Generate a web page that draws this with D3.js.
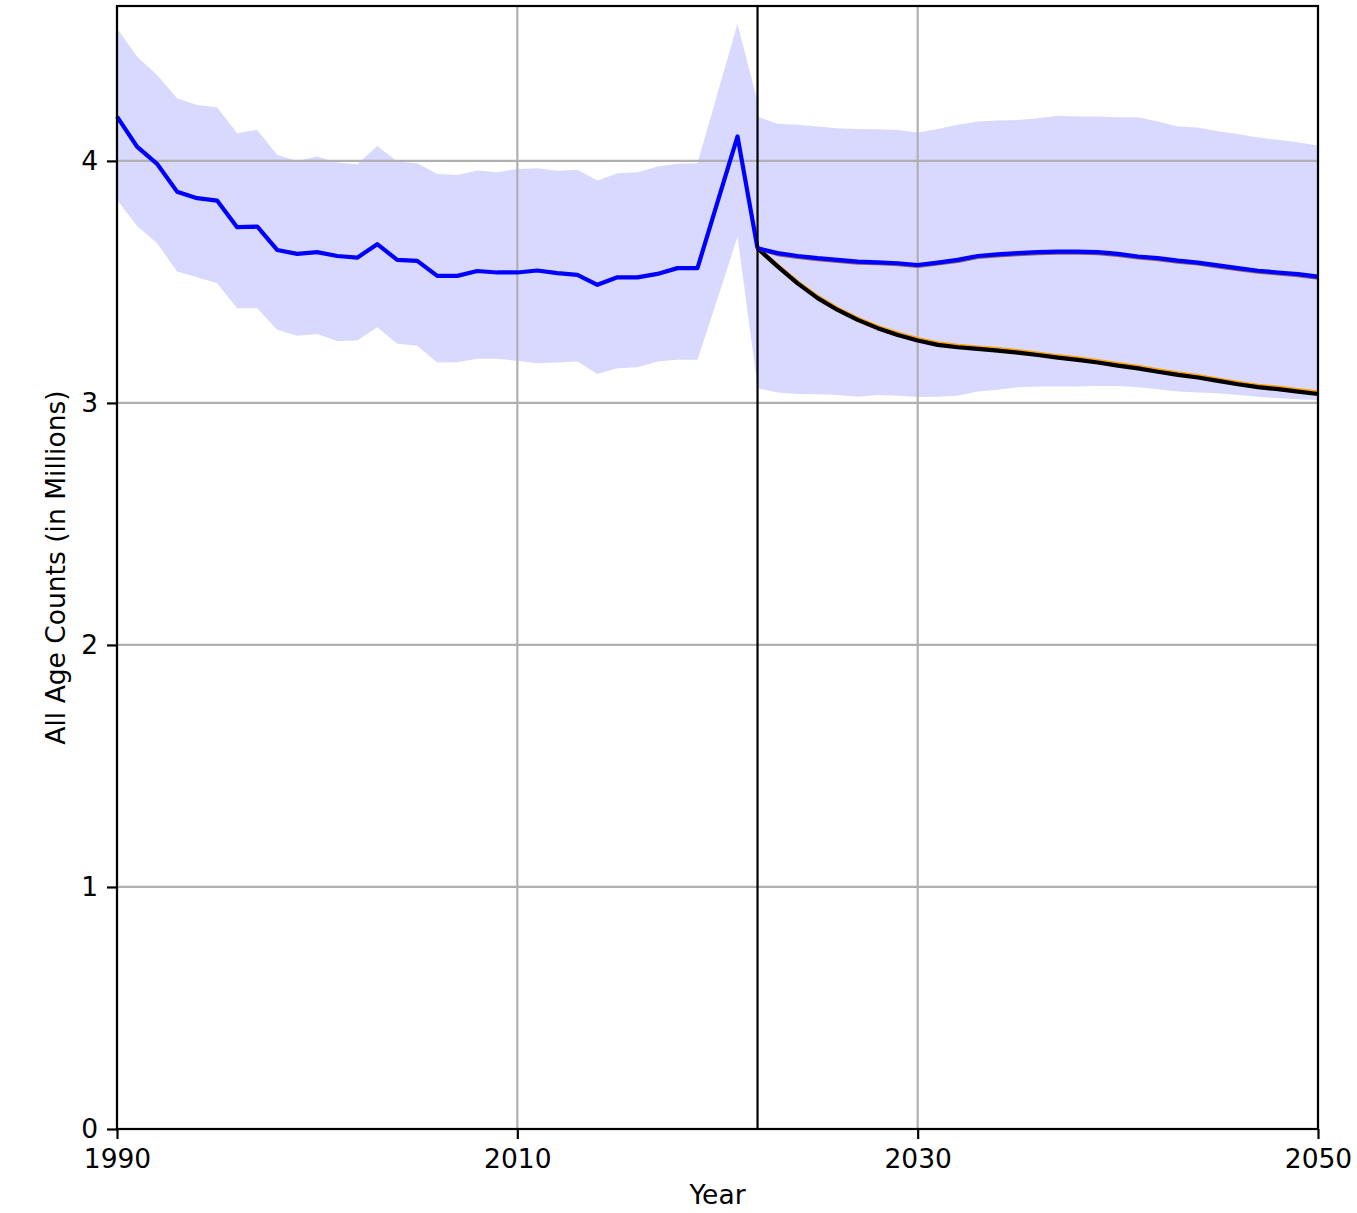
<!DOCTYPE html>
<html>
<head>
<meta charset="utf-8">
<script src="https://cdn.jsdelivr.net/npm/d3@7"></script>
<style>
body { margin: 0; background: #fff; }
text { font-family: "DejaVu Sans", sans-serif; fill: #000; }
</style>
</head>
<body>
<script>
// historical estimates 1990-2022
var histYears = d3.range(1990, 2023);
var histMean = [4.183, 4.059, 3.988, 3.873, 3.846, 3.836, 3.726, 3.729, 3.632, 3.616, 3.623, 3.607, 3.600, 3.656, 3.591, 3.587, 3.525,
	3.525, 3.545, 3.539, 3.539, 3.547, 3.536, 3.529, 3.488, 3.519, 3.519, 3.533, 3.557, 3.557, 3.83, 4.101, 3.639];
var histUpper = [4.548, 4.431, 4.355, 4.259, 4.231, 4.222, 4.114, 4.128, 4.025, 4.000, 4.018, 3.993, 3.986, 4.062, 3.997, 3.990, 3.946,
	3.942, 3.960, 3.953, 3.967, 3.970, 3.959, 3.963, 3.919, 3.949, 3.953, 3.977, 3.988, 3.990, 4.28, 4.566, 4.245];
var histLower = [3.839, 3.731, 3.660, 3.543, 3.519, 3.494, 3.391, 3.391, 3.302, 3.278, 3.285, 3.256, 3.258, 3.313, 3.244, 3.236, 3.167,
	3.168, 3.182, 3.182, 3.174, 3.164, 3.167, 3.171, 3.119, 3.143, 3.147, 3.171, 3.178, 3.178, 3.43, 3.687, 3.068];

// forecasts 2022-2050
var fcYears = d3.range(2022, 2051);
var fcUpper = [4.183, 4.153, 4.149, 4.142, 4.135, 4.132, 4.131, 4.128, 4.117, 4.132, 4.149, 4.163, 4.167, 4.169, 4.176,
	4.187, 4.183, 4.183, 4.180, 4.180, 4.163, 4.142, 4.138, 4.122, 4.111, 4.097, 4.087, 4.077, 4.063];
var fcLower = [3.061, 3.043, 3.037, 3.036, 3.033, 3.026, 3.033, 3.030, 3.024, 3.026, 3.030, 3.047, 3.054, 3.065, 3.068,
	3.068, 3.068, 3.070, 3.070, 3.065, 3.057, 3.047, 3.043, 3.040, 3.033, 3.026, 3.019, 3.015, 3.012];
var fcReference = [3.639, 3.619, 3.607, 3.598, 3.591, 3.584, 3.581, 3.577, 3.570, 3.580, 3.591, 3.607, 3.614, 3.619, 3.623,
	3.625, 3.625, 3.623, 3.616, 3.605, 3.598, 3.588, 3.580, 3.568, 3.557, 3.546, 3.539, 3.532, 3.522];
var fcRefAlt = [3.639, 3.615, 3.603, 3.594, 3.587, 3.580, 3.577, 3.573, 3.566, 3.576, 3.587, 3.603, 3.610, 3.615, 3.619,
	3.621, 3.621, 3.619, 3.612, 3.601, 3.594, 3.584, 3.576, 3.564, 3.553, 3.542, 3.535, 3.528, 3.518];
var fcLow = [3.639, 3.564, 3.494, 3.433, 3.384, 3.343, 3.309, 3.281, 3.258, 3.240, 3.230, 3.223, 3.216, 3.208, 3.198,
	3.187, 3.178, 3.167, 3.154, 3.143, 3.129, 3.116, 3.105, 3.091, 3.077, 3.065, 3.057, 3.047, 3.037];
var fcLowAlt = [3.639, 3.567, 3.498, 3.438, 3.389, 3.348, 3.314, 3.287, 3.264, 3.246, 3.236, 3.229, 3.222, 3.214, 3.204,
	3.193, 3.184, 3.173, 3.160, 3.149, 3.135, 3.122, 3.111, 3.097, 3.083, 3.071, 3.063, 3.053, 3.044];

var xTicks = [1990, 2010, 2030, 2050];
var yTicks = [0, 1, 2, 3, 4];
var forecastStart = 2022;

var margin = {top: 6, right: 39, bottom: 84, left: 117};
var width = 1201;
var height = 1123;
var fontSize = "26.5px";

var x = d3.scaleLinear().domain([1990, 2050]).range([0, width]);
var y = d3.scaleLinear().domain([0, 4.64]).range([height, 0]);

var svg = d3.select("body").append("svg")
	.attr("width", width + margin.left + margin.right)
	.attr("height", height + margin.top + margin.bottom);
var g = svg.append("g")
	.attr("transform", "translate(" + margin.left + "," + margin.top + ")");

function zip(years) {
	var cols = Array.prototype.slice.call(arguments, 1);
	return years.map((yr, i) => ({year: yr, v: cols.map((c) => c[i])}));
}

// uncertainty bands
var area = d3.area()
	.x((d) => x(d.year))
	.y0((d) => y(d.v[0]))
	.y1((d) => y(d.v[1]));
g.append("path").datum(zip(histYears, histLower, histUpper))
	.attr("d", area).attr("fill", "blue").attr("fill-opacity", 0.15);
g.append("path").datum(zip(fcYears, fcLower, fcUpper))
	.attr("d", area).attr("fill", "blue").attr("fill-opacity", 0.15);

// grid
g.selectAll(".ygrid").data(yTicks).enter().append("line")
	.attr("x1", 0).attr("x2", width)
	.attr("y1", (d) => y(d)).attr("y2", (d) => y(d))
	.attr("stroke", "#b0b0b0").attr("stroke-width", 2.2);
g.selectAll(".xgrid").data(xTicks).enter().append("line")
	.attr("y1", 0).attr("y2", height)
	.attr("x1", (d) => x(d)).attr("x2", (d) => x(d))
	.attr("stroke", "#b0b0b0").attr("stroke-width", 2.2);

var line = d3.line()
	.x((d) => x(d.year))
	.y((d) => y(d.v[0]));

function drawLine(years, vals, color) {
	g.append("path").datum(zip(years, vals))
		.attr("d", line)
		.attr("fill", "none")
		.attr("stroke", color)
		.attr("stroke-width", 4.2)
		.attr("stroke-linejoin", "round");
}

drawLine(fcYears, fcLowAlt, "orange");
drawLine(fcYears, fcLow, "black");
drawLine(fcYears, fcRefAlt, "#8a6070");
drawLine(fcYears, fcReference, "blue");
drawLine(histYears, histMean, "blue");

// forecast start marker
g.append("line")
	.attr("x1", x(forecastStart)).attr("x2", x(forecastStart))
	.attr("y1", 0).attr("y2", height)
	.attr("stroke", "black").attr("stroke-width", 2.2);

// axes
var bottomAxis = d3.axisBottom(x).tickValues(xTicks).tickFormat(d3.format("d"))
	.tickSize(10).tickPadding(10);
var xg = g.append("g").attr("transform", "translate(0," + height + ")").call(bottomAxis);
var leftAxis = d3.axisLeft(y).tickValues(yTicks).tickFormat(d3.format("d"))
	.tickSize(10).tickPadding(9);
var yg = g.append("g").call(leftAxis);

[xg, yg].forEach((a) => {
	a.select(".domain").remove();
	a.selectAll(".tick line").attr("stroke", "black").attr("stroke-width", 2.2);
	a.selectAll(".tick text").attr("font-size", fontSize).attr("fill", "black")
		.style("font-family", "'DejaVu Sans', sans-serif");
});

// frame
g.append("rect")
	.attr("x", 0).attr("y", 0)
	.attr("width", width).attr("height", height)
	.attr("fill", "none").attr("stroke", "black").attr("stroke-width", 2.2);

g.append("text")
	.attr("x", width / 2)
	.attr("y", height + 75)
	.attr("font-size", fontSize)
	.attr("text-anchor", "middle")
	.text("Year");

g.append("text")
	.attr("x", -(height / 2))
	.attr("y", -52)
	.attr("font-size", fontSize)
	.attr("text-anchor", "middle")
	.attr("transform", "rotate(-90)")
	.text("All Age Counts (in Millions)");
</script>
</body>
</html>
